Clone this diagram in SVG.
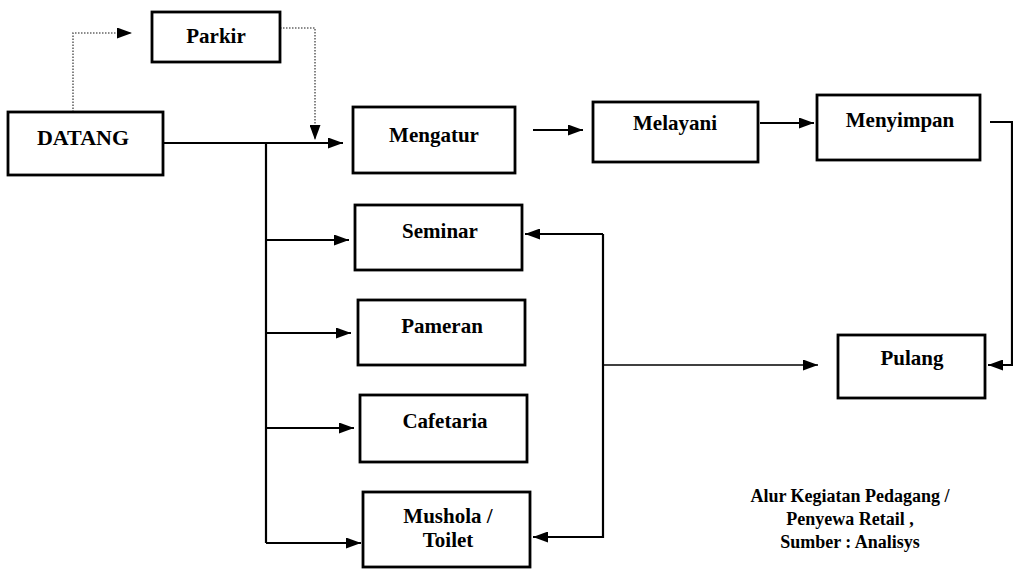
<svg xmlns="http://www.w3.org/2000/svg" width="1013" height="570" viewBox="0 0 1013 570">
<style>
.box{fill:#fff;stroke:#000;stroke-width:2.8}
.lbl{font-family:"Liberation Serif","Times New Roman",serif;font-weight:bold;font-size:21px;fill:#000;text-anchor:middle}
.cap{font-family:"Liberation Serif","Times New Roman",serif;font-weight:bold;font-size:18px;fill:#000;text-anchor:middle}
.ln{fill:none;stroke:#000;stroke-width:2.2}
.dot{fill:none;stroke:#666;stroke-width:1.6;stroke-dasharray:1.5 1.5}
</style>
<defs>
<marker id="ah" viewBox="0 0 15 11" refX="15" refY="5.5" markerWidth="15" markerHeight="11" markerUnits="userSpaceOnUse" orient="auto">
<path d="M0,0 L15,5.5 L0,11 Z" fill="#000"/>
</marker>
</defs>
<rect width="1013" height="570" fill="#fff"/>
<g id="connectors">
<path class="dot" d="M73,112 V33 H132" marker-end="url(#ah)"/>
<path class="dot" d="M280,28 H315 V140" marker-end="url(#ah)"/>
<path class="ln" d="M163,143 H343" marker-end="url(#ah)"/>
<path class="ln" d="M266,143 V543"/>
<path class="ln" d="M266,240 H349" marker-end="url(#ah)"/>
<path class="ln" d="M266,333 H351" marker-end="url(#ah)"/>
<path class="ln" d="M266,428 H354" marker-end="url(#ah)"/>
<path class="ln" d="M266,543 H361" marker-end="url(#ah)"/>
<path class="ln" d="M533,130 H583" marker-end="url(#ah)"/>
<path class="ln" d="M760,123 H814" marker-end="url(#ah)"/>
<path class="ln" d="M990,122 H1012 V365 H988" marker-end="url(#ah)"/>
<path class="ln" d="M603,234 H525" marker-end="url(#ah)"/>
<path class="ln" d="M603,234 V537 H533" marker-end="url(#ah)"/>
<path class="ln" style="stroke-width:1.6" d="M603,365 H818" marker-end="url(#ah)"/>
</g>
<g id="datang"><rect class="box" x="8" y="112" width="155" height="63"/><text class="lbl" x="83" y="145" style="font-size:22px">DATANG</text></g>
<g id="parkir"><rect class="box" x="152" y="12" width="128" height="50"/><text class="lbl" x="216" y="43">Parkir</text></g>
<g id="mengatur"><rect class="box" x="353" y="107" width="162" height="66"/><text class="lbl" x="434" y="142">Mengatur</text></g>
<g id="melayani"><rect class="box" x="593" y="102" width="165" height="60"/><text class="lbl" x="675" y="130">Melayani</text></g>
<g id="menyimpan"><rect class="box" x="817" y="95" width="163" height="65"/><text class="lbl" x="900" y="127">Menyimpan</text></g>
<g id="seminar"><rect class="box" x="355" y="205" width="167" height="65"/><text class="lbl" x="440" y="238">Seminar</text></g>
<g id="pameran"><rect class="box" x="358" y="300" width="167" height="65"/><text class="lbl" x="442" y="333">Pameran</text></g>
<g id="cafetaria"><rect class="box" x="360" y="395" width="167" height="67"/><text class="lbl" x="445" y="428">Cafetaria</text></g>
<g id="mushola"><rect class="box" x="363" y="492" width="167" height="75"/><text class="lbl" x="448" y="523">Mushola /</text><text class="lbl" x="448" y="547">Toilet</text></g>
<g id="pulang"><rect class="box" x="838" y="335" width="147" height="63"/><text class="lbl" x="912" y="365">Pulang</text></g>
<g id="caption">
<text class="cap" x="850" y="502">Alur Kegiatan Pedagang /</text>
<text class="cap" x="850" y="525">Penyewa Retail ,</text>
<text class="cap" x="850" y="548">Sumber : Analisys</text>
</g>
</svg>
